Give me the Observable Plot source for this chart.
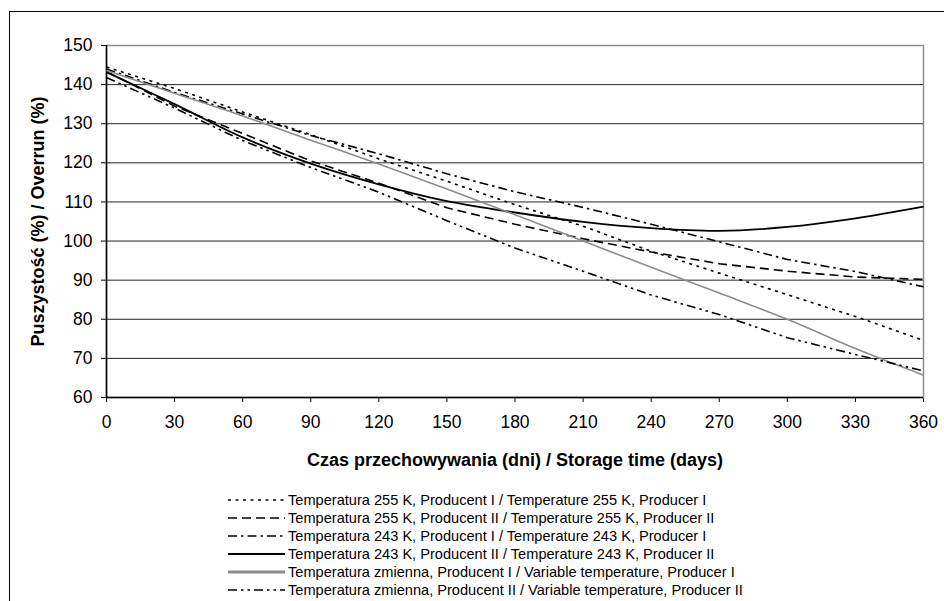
<!DOCTYPE html>
<html>
<head>
<meta charset="utf-8">
<script src="https://cdn.jsdelivr.net/npm/d3@7"></script>
<script src="https://cdn.jsdelivr.net/npm/@observablehq/plot@0.6"></script>
<style>
  html, body { margin: 0; padding: 0; background: #fff; }
  body { width: 944px; height: 601px; position: relative; overflow: hidden; font-family: "Liberation Sans", Arial, sans-serif; }
  #frame { position: absolute; left: 9px; top: 11px; width: 940px; height: 600px; border-top: 1.5px solid #000; border-left: 1.5px solid #000; }
  #chart { position: absolute; left: 0; top: 0; }
  #legend { position: absolute; left: 228px; top: 491px; font-size: 14.6px; color: #000; }
  #legend .row { height: 18px; display: flex; align-items: center; white-space: nowrap; }
  #legend svg { display: block; margin-right: 2px; }
</style>
</head>
<body>
<div id="frame"></div>
<div id="chart"></div>
<div id="legend"></div>
<script>
// ---- data ----
const days = [0, 30, 60, 90, 120, 150, 180, 210, 240, 270, 300, 330, 360];
const xTicks = [0, 30, 60, 90, 120, 150, 180, 210, 240, 270, 300, 330, 360];
const yTicks = [60, 70, 80, 90, 100, 110, 120, 130, 140, 150];

const temp255Prod1 = [144.5, 139.0, 133.0, 127.2, 121.0, 115.3, 109.3, 103.8, 97.4, 91.8, 86.3, 80.7, 74.6];
const temp255Prod2 = [143.3, 134.5, 127.5, 120.5, 114.8, 108.5, 104.3, 100.6, 97.2, 94.2, 92.3, 90.8, 90.2];
const temp243Prod1 = [144.0, 138.0, 132.5, 127.0, 122.3, 117.2, 112.6, 108.6, 104.3, 99.8, 95.3, 92.2, 88.3];
const temp243Prod2 = [143.2, 135.0, 126.5, 119.8, 114.5, 110.2, 107.3, 104.9, 103.3, 102.6, 103.6, 105.8, 108.8];
const varProd1     = [143.6, 137.8, 132.0, 125.8, 119.7, 113.3, 106.7, 100.0, 93.3, 86.7, 80.0, 72.5, 65.7];
const varProd2     = [141.8, 134.0, 125.7, 118.8, 112.5, 105.2, 98.2, 92.3, 86.2, 81.2, 75.3, 71.0, 66.8];

const seriesNames = [
  "Temperatura 255 K, Producent I / Temperature 255 K, Producer I",
  "Temperatura 255 K, Producent II / Temperature 255 K, Producer II",
  "Temperatura 243 K, Producent I / Temperature 243 K, Producer I",
  "Temperatura 243 K, Producent II / Temperature 243 K, Producer II",
  "Temperatura zmienna, Producent I / Variable temperature, Producer I",
  "Temperatura zmienna, Producent II / Variable temperature, Producer II"
];
const xTitle = "Czas przechowywania (dni) / Storage time (days)";
const yTitle = "Puszystość (%) / Overrun (%)";

// ---- styles ----
const seriesValues = [temp255Prod1, temp255Prod2, temp243Prod1, temp243Prod2, varProd1, varProd2];
const styles = [
  {stroke: "#000", strokeWidth: 1.6, strokeDasharray: "3,4.5", curve: "linear"},
  {stroke: "#000", strokeWidth: 1.6, strokeDasharray: "9,5", curve: "linear"},
  {stroke: "#000", strokeWidth: 1.6, strokeDasharray: "9,4,2.5,4", curve: "linear"},
  {stroke: "#000", strokeWidth: 1.8, strokeDasharray: null, curve: "catmull-rom"},
  {stroke: "#8c8c8c", strokeWidth: 1.6, strokeDasharray: null, curve: "catmull-rom"},
  {stroke: "#000", strokeWidth: 1.6, strokeDasharray: "9,4,2.5,4,2.5,4", curve: "linear"}
];

const tables = seriesValues.map((arr, s) => days.map((d, i) => ({day: d, value: arr[i], series: seriesNames[s]})));

const lineMarks = tables.map((t, s) => {
  const st = styles[s];
  const o = {x: "day", y: "value", stroke: st.stroke, strokeWidth: st.strokeWidth, curve: st.curve, strokeLinecap: "butt"};
  if (st.strokeDasharray) o.strokeDasharray = st.strokeDasharray;
  return Plot.line(t, o);
});

const chart = Plot.plot({
  width: 944,
  height: 480,
  marginLeft: 106,
  marginRight: 21,
  marginTop: 45,
  marginBottom: 83,
  style: {fontFamily: "'Liberation Sans', Arial, sans-serif", fontSize: "17.5px", color: "#000", background: "transparent"},
  x: {domain: [0, 360], ticks: xTicks, tickSize: 5, tickPadding: 13, label: null},
  y: {domain: [60, 150], ticks: yTicks, tickSize: 5, tickPadding: 9, label: null},
  marks: [
    Plot.frame({stroke: "#8c8c8c", strokeWidth: 1.5}),
    Plot.gridY(yTicks.filter(v => v > 60 && v < 150), {stroke: "#222", strokeOpacity: 1, strokeWidth: 1}),
    Plot.ruleY([60], {stroke: "#000", strokeWidth: 1.5}),
    Plot.ruleX([0], {stroke: "#000", strokeWidth: 1.5}),
    ...lineMarks,
    Plot.text([xTitle], {text: d => d, frameAnchor: "bottom", dy: 63, fontWeight: "bold", fontSize: 18, textAnchor: "middle", lineAnchor: "middle", letterSpacing: "0.8px"}),
    Plot.text([yTitle], {text: d => d, frameAnchor: "left", dx: -68, rotate: -90, fontWeight: "bold", fontSize: 18, textAnchor: "middle", lineAnchor: "middle"})
  ]
});
document.getElementById("chart").appendChild(chart);

// ---- legend ----
const legend = d3.select("#legend");
seriesNames.forEach((name, s) => {
  const st = styles[s];
  const row = legend.append("div").attr("class", "row");
  const svg = row.append("svg").attr("width", 58).attr("height", 18);
  svg.append("line")
    .attr("x1", 0).attr("x2", 57).attr("y1", 9).attr("y2", 9)
    .attr("stroke", st.stroke)
    .attr("stroke-width", s === 4 ? 3 : st.strokeWidth)
    .attr("stroke-dasharray", st.strokeDasharray);
  row.append("span").text(name);
});
</script>
</body>
</html>
